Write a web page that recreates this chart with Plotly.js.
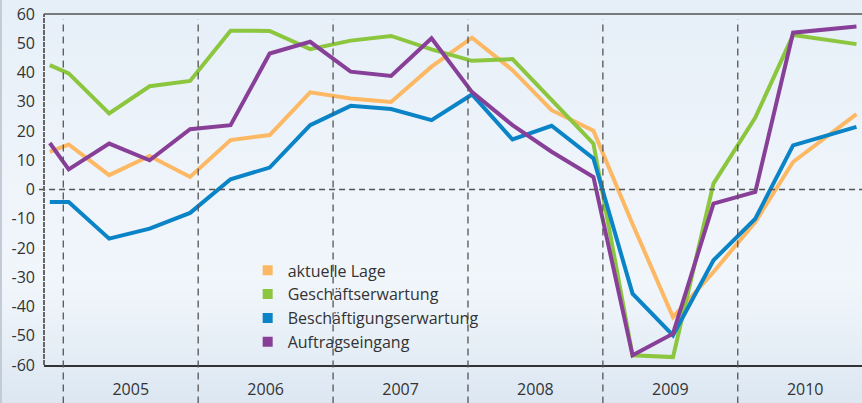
<!DOCTYPE html>
<html>
<head>
<meta charset="utf-8">
<script src="https://cdn.plot.ly/plotly-3.0.1.min.js"></script>
<style>
html,body{margin:0;padding:0;}
body{width:862px;height:403px;background:linear-gradient(to bottom,#e6eff8 0%,#eef4fa 45%,#f1f6fb 70%,#dce7f2 100%);position:relative;}
#chart{width:862px;height:403px;}
#edge{position:absolute;left:0;top:0;width:2px;height:403px;background:#c3ccd6;}
</style>
</head>
<body>
<div id="chart"></div>
<div id="edge"></div>
<script>
// time positions (fractional years) of the data points
var xPos = [2004.90, 2005.04, 2005.34, 2005.64, 2005.94, 2006.24, 2006.53, 2006.83, 2007.13, 2007.43, 2007.73,
            2008.03, 2008.33, 2008.62, 2008.93, 2009.22, 2009.52, 2009.82, 2010.13, 2010.41, 2010.88];
var aktuelleLage = [12.9, 15.4, 4.9, 11.5, 4.3, 16.9, 18.6, 33.2, 31.1, 29.9, 42.0,
                    51.9, 40.8, 27.1, 20.1, -11.8, -43.6, -28.2, -11.1, 9.4, 25.8];
var geschaeftserwartung = [42.5, 39.7, 26.0, 35.3, 37.1, 54.3, 54.2, 48.0, 50.9, 52.5, 47.9,
                           44.0, 44.6, 30.6, 15.7, -56.7, -57.3, 2.0, 24.6, 52.8, 49.7];
var beschaeftigung = [-4.3, -4.3, -16.8, -13.4, -8.0, 3.5, 7.5, 22.0, 28.6, 27.5, 23.7,
                      32.5, 17.1, 21.8, 10.6, -35.6, -49.9, -24.2, -10.0, 15.1, 21.4];
var auftragseingang = [15.9, 6.9, 15.7, 10.0, 20.6, 22.0, 46.5, 50.5, 40.3, 38.8, 51.7,
                       33.3, 22.0, 12.9, 4.3, -56.7, -49.3, -4.8, -0.8, 53.6, 55.7];
var seriesNames = ["aktuelle Lage", "Geschäftserwartung", "Beschäftigungserwartung", "Auftragseingang"];
var seriesColors = ["#fdb863", "#8cc63f", "#0a84c6", "#883f98"];
var years = [2005, 2006, 2007, 2008, 2009, 2010];
var yTicks = [-60, -50, -40, -30, -20, -10, 0, 10, 20, 30, 40, 50, 60];

var seriesData = [aktuelleLage, geschaeftserwartung, beschaeftigung, auftragseingang];
var traces = [];
seriesData.forEach(function (d, i) {
  traces.push({x: xPos, y: d, type: "scatter", mode: "lines", name: seriesNames[i],
    line: {color: seriesColors[i], width: 4}, showlegend: false, hoverinfo: "x+y"});
});
// legend entries as squares
seriesData.forEach(function (d, i) {
  traces.push({x: [null], y: [null], type: "scatter", mode: "markers", name: seriesNames[i],
    marker: {color: seriesColors[i], symbol: "square", size: 10}, showlegend: true});
});

var shapes = [];
years.forEach(function (yr) {
  shapes.push({type: "line", xref: "x", yref: "paper", x0: yr, x1: yr, y0: -0.11, y1: 0.985,
    line: {color: "#555", width: 1.3, dash: "7px,5px"}});
});
// zero line
shapes.push({type: "line", xref: "paper", yref: "y", x0: -0.006, x1: 1, y0: 0, y1: 0,
  line: {color: "#555", width: 1.3, dash: "6px,4px"}});
// left axis line
shapes.push({type: "line", xref: "paper", yref: "paper", x0: 0, x1: 0, y0: 0, y1: 1,
  line: {color: "#666", width: 2, dash: "5px,1px"}});
// top border
shapes.push({type: "line", xref: "paper", yref: "paper", x0: 0, x1: 1, y0: 1, y1: 1,
  line: {color: "#555", width: 1.5}});

var layout = {
  width: 862, height: 403,
  margin: {l: 44, r: 0, t: 14, b: 38},
  paper_bgcolor: "rgba(0,0,0,0)",
  plot_bgcolor: "rgba(0,0,0,0)",
  font: {family: "Open Sans, sans-serif", size: 16, color: "#333"},
  xaxis: {range: [2004.857, 2010.921], tickvals: years.map(function (y) { return y + 0.5; }),
    ticktext: years.map(String), ticks: "", showgrid: false, zeroline: false,
    showline: true, linecolor: "#333", linewidth: 1.5, ticklabelstandoff: 9,
    tickfont: {size: 16, color: "#333"}},
  yaxis: {range: [-60, 60], tickvals: yTicks, ticktext: yTicks.map(function (v) { return String(v); }),
    ticks: "", showgrid: false, zeroline: false, showline: false, ticklabelstandoff: 8,
    tickfont: {size: 16, color: "#333"}},
  legend: {x: 0.249, y: 0.318, xanchor: "left", yanchor: "top", bgcolor: "rgba(0,0,0,0)",
    font: {size: 16, color: "#333"}, itemwidth: 30, tracegroupgap: 0},
  shapes: shapes,
  showlegend: true
};
Plotly.newPlot("chart", traces, layout, {displayModeBar: false, staticPlot: true});
</script>
</body>
</html>
